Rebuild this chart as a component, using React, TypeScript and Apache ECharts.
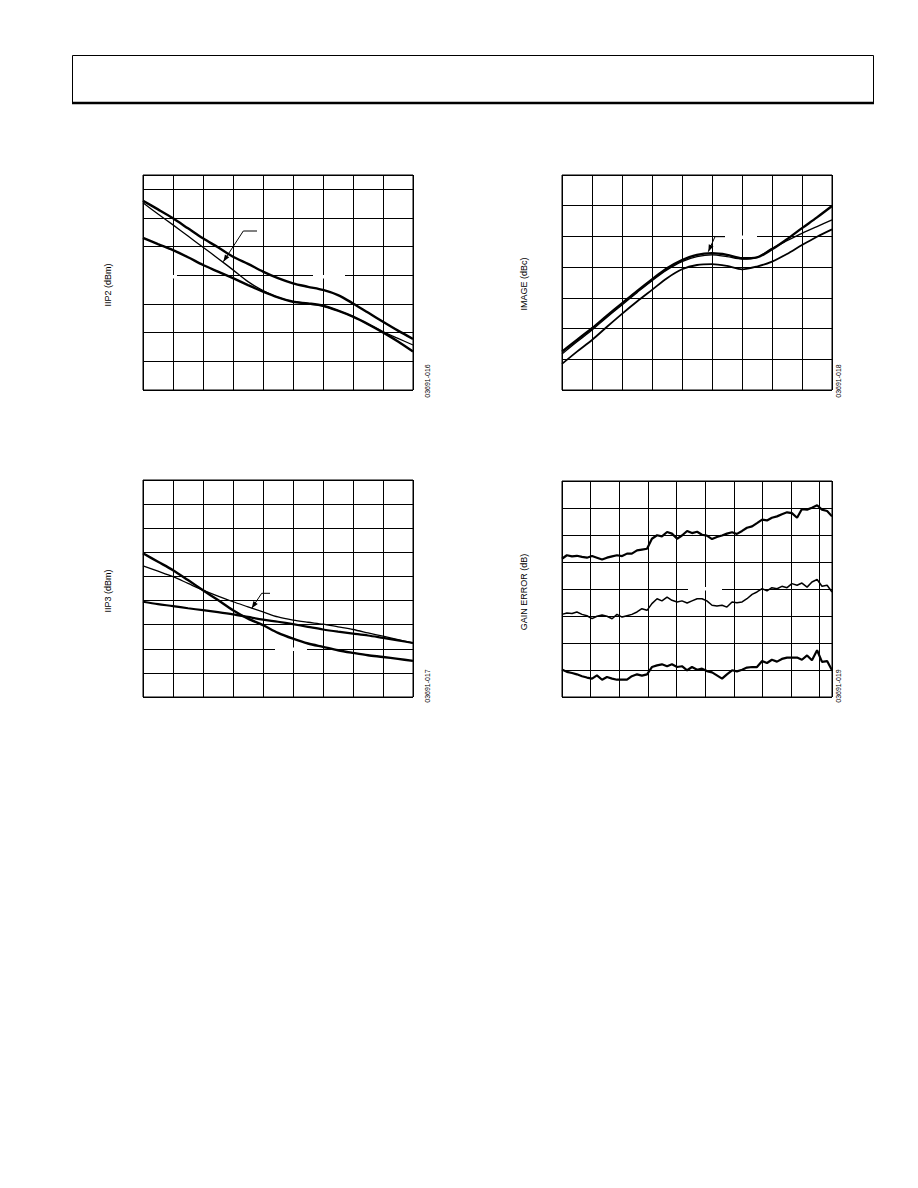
import React, { useEffect, useRef } from "react";
import * as echarts from "echarts";

// ---------- data ----------
const xsHalf = [0, 0.5, 1, 1.5, 2, 2.5, 3, 3.5, 4, 4.5, 5, 5.5, 6, 6.5, 7, 7.5, 8, 8.5, 9];

// IIP2 (dBm)
const iip2Upper = [6.6, 6.3, 5.99, 5.64, 5.29, 4.98, 4.65, 4.4, 4.13, 3.9, 3.72, 3.6, 3.49, 3.31, 3.02, 2.7, 2.38, 2.07, 1.78];
const iip2Thin = [6.53, 6.14, 5.76, 5.37, 4.98, 4.59, 4.19, 3.78, 3.47, 3.23, 3.08, 3.0, 2.93, 2.77, 2.56, 2.3, 2.03, 1.8, 1.57];
const iip2Lower = [5.31, 5.09, 4.88, 4.63, 4.36, 4.13, 3.9, 3.66, 3.43, 3.23, 3.08, 3.02, 2.94, 2.77, 2.56, 2.3, 2.01, 1.69, 1.34];

// IMAGE (dBc)
const imageTop = [1.25, 1.63, 2.01, 2.42, 2.82, 3.22, 3.6, 3.96, 4.23, 4.4, 4.45, 4.4, 4.29, 4.32, 4.58, 4.91, 5.27, 5.62, 5.99];
const imageMid = [1.17, 1.57, 1.95, 2.37, 2.77, 3.17, 3.56, 3.91, 4.18, 4.34, 4.4, 4.34, 4.26, 4.32, 4.61, 4.86, 5.1, 5.32, 5.54];
const imageLow = [0.85, 1.25, 1.63, 2.06, 2.48, 2.88, 3.26, 3.64, 3.93, 4.07, 4.1, 4.04, 3.93, 4.02, 4.18, 4.43, 4.72, 4.99, 5.23];

// IIP3 (dBm)
const iip3Steep = [5.96, 5.61, 5.26, 4.85, 4.43, 4.02, 3.6, 3.25, 2.98, 2.66, 2.42, 2.22, 2.08, 1.94, 1.83, 1.73, 1.66, 1.58, 1.5];
const iip3Thin = [5.44, 5.22, 4.99, 4.71, 4.43, 4.18, 3.95, 3.74, 3.53, 3.32, 3.19, 3.1, 3.02, 2.91, 2.8, 2.66, 2.52, 2.38, 2.24];
const iip3Flat = [3.95, 3.85, 3.77, 3.68, 3.6, 3.52, 3.43, 3.32, 3.21, 3.12, 3.02, 2.91, 2.8, 2.71, 2.63, 2.55, 2.45, 2.35, 2.24];

// GAIN ERROR (dB)
const xsGain = [0, 0.17, 0.35, 0.52, 0.7, 0.87, 1.05, 1.22, 1.4, 1.57, 1.75, 1.92, 2.1, 2.27, 2.44, 2.62, 2.79, 2.97, 3.14, 3.32, 3.49, 3.67, 3.84, 4.02, 4.19, 4.37, 4.54, 4.72, 4.89, 5.06, 5.24, 5.41, 5.59, 5.76, 5.94, 6.11, 6.29, 6.46, 6.64, 6.81, 6.99, 7.16, 7.33, 7.51, 7.68, 7.86, 8.03, 8.21, 8.38, 8.56, 8.73, 8.91, 9.08, 9.26, 9.43];
const gainTop = [5.12, 5.25, 5.21, 5.23, 5.19, 5.16, 5.22, 5.16, 5.09, 5.16, 5.21, 5.25, 5.22, 5.31, 5.31, 5.43, 5.46, 5.49, 5.86, 5.99, 5.95, 6.11, 6.05, 5.86, 5.98, 6.15, 6.07, 6.12, 6.01, 5.98, 5.85, 5.93, 5.98, 6.05, 6.1, 6.04, 6.15, 6.27, 6.32, 6.44, 6.57, 6.54, 6.64, 6.69, 6.77, 6.84, 6.81, 6.64, 6.96, 6.94, 7.01, 7.1, 6.94, 6.89, 6.69];
const gainMid = [3.06, 3.11, 3.09, 3.15, 3.06, 3.01, 2.9, 2.99, 3.04, 2.99, 2.9, 3.06, 2.96, 3.01, 3.06, 3.15, 3.27, 3.21, 3.46, 3.64, 3.56, 3.7, 3.58, 3.52, 3.56, 3.48, 3.56, 3.64, 3.64, 3.56, 3.4, 3.37, 3.4, 3.33, 3.52, 3.49, 3.52, 3.64, 3.8, 3.89, 4.01, 3.93, 4.05, 4.01, 4.1, 4.05, 4.2, 4.14, 4.22, 4.07, 4.26, 4.35, 4.1, 4.14, 3.89];
const gainLow = [1.02, 0.93, 0.89, 0.84, 0.77, 0.72, 0.68, 0.8, 0.64, 0.74, 0.68, 0.64, 0.64, 0.64, 0.77, 0.84, 0.79, 0.84, 1.11, 1.17, 1.21, 1.14, 1.21, 1.11, 1.14, 0.99, 1.11, 1.01, 1.05, 0.96, 0.91, 0.8, 0.68, 0.84, 0.99, 0.95, 1.01, 1.09, 1.11, 1.11, 1.33, 1.26, 1.38, 1.31, 1.41, 1.46, 1.46, 1.46, 1.38, 1.54, 1.36, 1.73, 1.3, 1.33, 0.99];

const yNames = ["IIP2 (dBm)", "IMAGE (dBc)", "IIP3 (dBm)", "GAIN ERROR (dB)"];
const figCodes = ["03691-016", "03691-018", "03691-017", "03691-019"];

// ---------- helpers ----------
const FONT = '"Liberation Sans", Arial, sans-serif';

function axis(gridIndex: number, min: number, max: number) {
  return {
    type: "value",
    gridIndex,
    min,
    max,
    interval: 1,
    axisLine: { show: false },
    axisTick: { show: false },
    axisLabel: { show: false },
    splitLine: { show: true, lineStyle: { color: "#000", width: 1 } },
  };
}

function line(idx: number, xs: number[], ys: number[], width: number, smooth: number | boolean) {
  return {
    type: "line",
    xAxisIndex: idx,
    yAxisIndex: idx,
    data: xs.map((x, i) => [x, ys[i]]),
    showSymbol: false,
    symbol: "none",
    smooth,
    lineStyle: { color: "#000", width },
    z: 3,
  };
}

function arrow(pts: number[][]) {
  const [tx, ty] = pts[pts.length - 1];
  const [px, py] = pts[pts.length - 2];
  const dx = tx - px, dy = ty - py;
  const len = Math.hypot(dx, dy);
  const ux = dx / len, uy = dy / len;
  const L = 7, W = 2.6;
  const bx = tx - ux * L, by = ty - uy * L;
  return [
    { type: "polyline", z: 10, shape: { points: pts }, style: { stroke: "#000", lineWidth: 1, fill: null } },
    {
      type: "polygon",
      z: 10,
      shape: { points: [[tx, ty], [bx - uy * W, by + ux * W], [bx + uy * W, by - ux * W]] },
      style: { fill: "#000" },
    },
  ];
}

function gap(x: number, y: number, w: number, h: number) {
  return { type: "rect", z: 1, shape: { x, y, width: w, height: h }, style: { fill: "#fff" } };
}

function vText(text: string, x: number, y: number, size: number, weight: string) {
  return {
    type: "text",
    x,
    y,
    rotation: Math.PI / 2,
    z: 10,
    style: {
      text,
      fontSize: size,
      fontWeight: weight,
      fontFamily: FONT,
      fill: "#000",
      align: "center",
      verticalAlign: "middle",
    },
  };
}

export default function App() {
  const ref = useRef<HTMLDivElement>(null);
  useEffect(() => {
    if (!ref.current) return;
    const chart = echarts.init(ref.current, null, { renderer: "svg" });
    const gridBase = { show: true, borderColor: "#000", borderWidth: 1, backgroundColor: "transparent", containLabel: false };
    const option = {
      animation: false,
      backgroundColor: "#fff",
      grid: [
        { ...gridBase, left: 143, top: 175, width: 270, height: 215 },
        { ...gridBase, left: 562, top: 175, width: 270, height: 215 },
        { ...gridBase, left: 143, top: 480, width: 270, height: 217 },
        { ...gridBase, left: 562, top: 481, width: 270, height: 216 },
      ],
      xAxis: [axis(0, 0, 9), axis(1, 0, 9), axis(2, 0, 9), axis(3, 0, 9.43)],
      yAxis: [axis(0, 0, 7.5), axis(1, 0, 7), axis(2, 0, 9), axis(3, 0, 8)],
      series: [
        line(0, xsHalf, iip2Upper, 2.4, 0.3),
        line(0, xsHalf, iip2Thin, 1.3, 0.3),
        line(0, xsHalf, iip2Lower, 2.4, 0.3),
        line(1, xsHalf, imageTop, 2.4, 0.3),
        line(1, xsHalf, imageMid, 1.3, 0.3),
        line(1, xsHalf, imageLow, 1.8, 0.3),
        line(2, xsHalf, iip3Steep, 2.4, 0.3),
        line(2, xsHalf, iip3Thin, 1.3, 0.3),
        line(2, xsHalf, iip3Flat, 2.2, 0.3),
        line(3, xsGain, gainTop, 2.2, false),
        line(3, xsGain, gainMid, 1.5, false),
        line(3, xsGain, gainLow, 2.2, false),
      ],
      graphic: [
        // page header box
        { type: "rect", z: 10, shape: { x: 72.5, y: 55.5, width: 801, height: 47 }, style: { fill: null, stroke: "#000", lineWidth: 1 } },
        { type: "line", z: 10, shape: { x1: 72, y1: 103, x2: 874, y2: 103 }, style: { stroke: "#000", lineWidth: 2.5 } },
        // axis names
        vText(yNames[0], 108, 285, 9, "normal"),
        vText(yNames[1], 524, 284, 9, "normal"),
        vText(yNames[2], 108, 591, 9, "normal"),
        vText(yNames[3], 524, 592, 9, "normal"),
        // figure codes
        vText(figCodes[0], 427, 381, 7, "normal"),
        vText(figCodes[1], 838, 381, 7, "normal"),
        vText(figCodes[2], 427, 686, 7, "normal"),
        vText(figCodes[3], 838, 686, 7, "normal"),
        // gaps where labels were
        gap(144, 275, 33, 3.5),
        gap(313, 275, 32, 3.5),
        gap(725, 235.5, 32, 3.5),
        gap(275, 647.5, 32, 3.5),
        gap(688, 587, 34, 3.5),
        // annotation arrows
        ...arrow([[257, 231], [243.3, 231], [223.3, 261.7]]),
        ...arrow([[725, 236.7], [715, 236.7], [708.3, 251.7]]),
        ...arrow([[270, 593.3], [261.7, 593.3], [251.7, 608.3]]),
      ],
    };
    chart.setOption(option as any);
    return () => chart.dispose();
  }, []);
  return (
    <div
      ref={ref}
      style={{ position: "absolute", left: 0, top: 0, width: 918, height: 1188, background: "#fff" }}
    />
  );
}
